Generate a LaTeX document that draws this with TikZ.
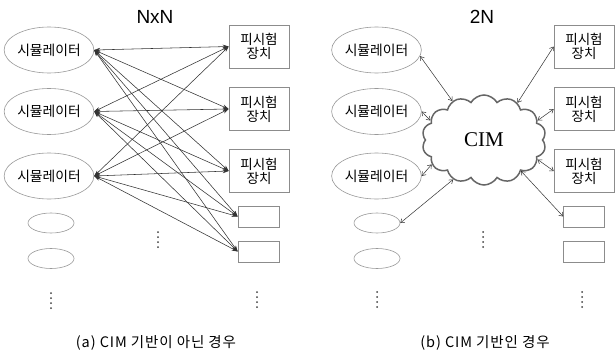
\documentclass[tikz,border=0pt]{standalone}
\usepackage{fontspec}
\setmainfont{Noto Sans CJK KR}
\newfontfamily\latinsans{Liberation Sans}
\newfontfamily\latinserif{Liberation Serif}
\usetikzlibrary{shapes.geometric,shapes.symbols,arrows.meta}
\tikzset{
  sim/.style={ellipse, draw=black!40, line width=0.6pt, minimum width=67pt, minimum height=46pt, inner sep=0pt, font=\fontsize{13.8}{15}\selectfont},
  smallsim/.style={ellipse, draw=black!40, line width=0.6pt, minimum width=46pt, minimum height=20pt, inner sep=0pt},
  dut/.style={rectangle, draw=black!45, line width=0.6pt, minimum width=60pt, minimum height=43pt, inner sep=0pt, align=center, font=\fontsize{13.5}{15}\selectfont},
  smalldut/.style={rectangle, draw=black!45, line width=0.6pt, minimum width=41pt, minimum height=21pt, inner sep=0pt},
  linkA/.style={{Stealth[length=6pt,width=4pt]}-{Stealth[length=6pt,width=4pt]}, draw=black!80, line width=0.55pt},
  linkB/.style={{Straight Barb[length=3.5pt,width=5pt]}-{Straight Barb[length=3.5pt,width=5pt]}, draw=black!80, line width=0.5pt},
  title/.style={font=\latinsans\fontsize{19}{22}\selectfont},
  caption/.style={font=\addfontfeatures{LetterSpace=6}\fontsize{14.5}{16}\selectfont},
  dotcol/.style={fill=black!75}
}
\begin{document}
\begin{tikzpicture}[x=1pt,y=-1pt]
\useasboundingbox (0,0) rectangle (616,356);
\fill[white] (0,0) rectangle (616,356);

% ---------------- left panel ----------------
\node[title] (t1) at (155,17) {NxN};
\node[sim] (ls1) at (49,50) {시뮬레이터};
\node[sim] (ls2) at (49,111.5) {시뮬레이터};
\node[sim] (ls3) at (49,176) {시뮬레이터};
\node[smallsim] (ls4) at (51,223) {};
\node[smallsim] (ls5) at (51,258.5) {};

\node[dut] (ld1) at (259,46.5) {피시험\\[-1pt]장치};
\node[dut] (ld2) at (259,109) {피시험\\[-1pt]장치};
\node[dut] (ld3) at (259,171) {피시험\\[-1pt]장치};
\node[smalldut] (ld4) at (258.5,216.5) {};
\node[smalldut] (ld5) at (258.5,251.5) {};

\foreach \s in {1,2,3}{
  \foreach \d in {1,2,3,4,5}{
    \draw[linkA] (ls\s.east) -- (ld\d.west);
  }
}

\foreach \y in {293,298,303,308}{ \fill[dotcol] (51,\y) circle (1pt); }
\foreach \y in {232,237,242,247}{ \fill[dotcol] (158,\y) circle (1pt); }
\foreach \y in {292,297,302,307}{ \fill[dotcol] (257,\y) circle (1pt); }

\node[caption] (c1) at (156,343) {(a) CIM 기반이 아닌 경우};

% ---------------- right panel ----------------
\node[title] (t2) at (482,17) {2N};
\node[sim] (rs1) at (376.5,50) {시뮬레이터};
\node[sim] (rs2) at (376.5,111.5) {시뮬레이터};
\node[sim] (rs3) at (376.5,176) {시뮬레이터};
\node[smallsim] (rs4) at (377,223) {};
\node[smallsim] (rs5) at (377,258.5) {};

\node[dut] (rd1) at (584,46.5) {피시험\\[-1pt]장치};
\node[dut] (rd2) at (584,109) {피시험\\[-1pt]장치};
\node[dut] (rd3) at (584,171) {피시험\\[-1pt]장치};
\node[smalldut] (rd4) at (584,216.5) {};
\node[smalldut] (rd5) at (584,251.5) {};

\node[cloud, cloud puffs=14, cloud puff arc=120, aspect=1.35, draw=black!60, line width=1.5pt,
      minimum width=124pt, minimum height=90pt, inner sep=0pt,
      font=\latinserif\fontsize{21}{24}\selectfont] (cim) at (484,140) {CIM};

\draw[linkB] (rs1.-8) -- (cim.129);
\draw[linkB] (rs2.east) -- (cim.160);
\draw[linkB] (rs3.east) -- (cim.205);
\draw[linkB] (rs4.east) -- (cim.232);
\draw[linkB] (cim.48) -- (rd1.west);
\draw[linkB] (cim.20) -- (rd2.west);
\draw[linkB] (cim.-20) -- (rd3.west);
\draw[linkB] (cim.-40) -- (rd4.west);

\foreach \y in {292,297,302,307}{ \fill[dotcol] (377,\y) circle (1pt); }
\foreach \y in {232,237,242,247}{ \fill[dotcol] (483,\y) circle (1pt); }
\foreach \y in {292,297,302,307}{ \fill[dotcol] (582,\y) circle (1pt); }

\node[caption] (c2) at (485,343) {(b) CIM 기반인 경우};
\end{tikzpicture}
\end{document}
